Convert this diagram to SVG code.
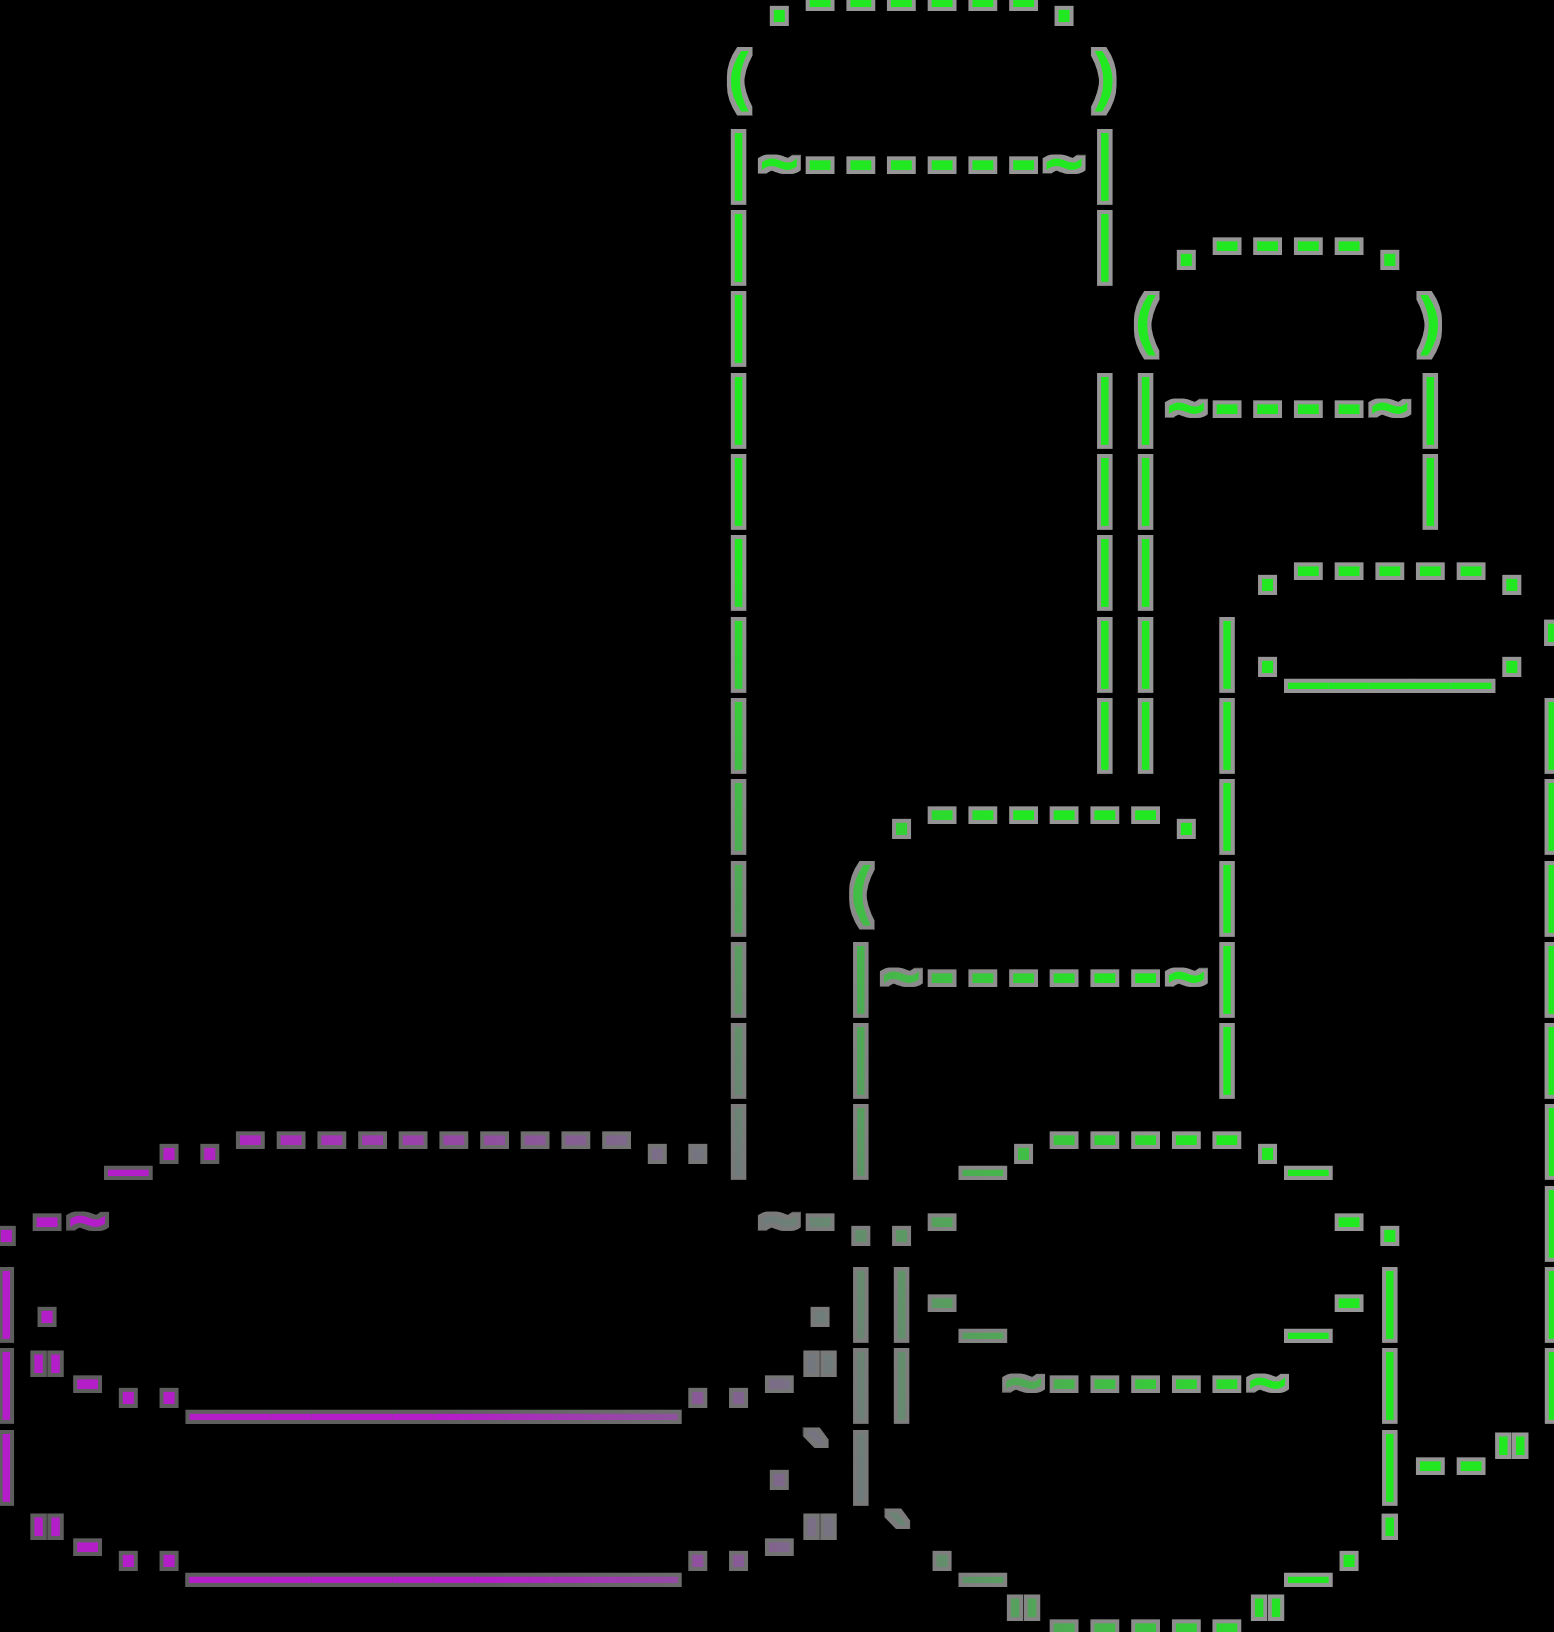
<svg xmlns="http://www.w3.org/2000/svg" width="1554" height="1632" viewBox="0 0 1554 1632">
<defs>
<radialGradient id="grad" gradientUnits="userSpaceOnUse" cx="0" cy="1632" r="1300">
<stop offset="0.385" stop-color="#b41ec8"/>
<stop offset="1" stop-color="#22e822"/>
</radialGradient>
<filter id="halo" filterUnits="userSpaceOnUse" x="0" y="0" width="1554" height="1632" color-interpolation-filters="sRGB">
<feMorphology in="SourceGraphic" operator="dilate" radius="4" result="d"/>
<feColorMatrix in="d" type="matrix" values="0.299 0.587 0.114 0 0 0.299 0.587 0.114 0 0 0.299 0.587 0.114 0 0 0 0 0 1 0" result="g"/>
<feMerge><feMergeNode in="g"/><feMergeNode in="SourceGraphic"/></feMerge>
</filter>
<style>
text{font-family:"DejaVu Sans Mono","Liberation Mono",monospace;font-weight:bold;font-size:67.59px;fill:url(#grad);white-space:pre}
</style>
</defs>
<rect width="1554" height="1632" fill="#000"/>
<g filter="url(#halo)">
<g id="cylinder-top">
<text x="759.06" y="22">.------.</text>
<text x="718.37" y="103.32">(        )</text>
<text x="718.37" y="184.64">|~------~|</text>
<text x="718.37" y="265.96">|        |</text>
<text x="718.37" y="347.28">|</text>
<text x="718.37" y="428.6">|        |</text>
<text x="718.37" y="509.92">|        |</text>
<text x="718.37" y="591.24">|        |</text>
<text x="718.37" y="672.56">|        |</text>
<text x="718.37" y="753.88">|        |</text>
<text x="718.37" y="835.2">|</text>
<text x="718.37" y="916.52">|</text>
<text x="718.37" y="997.84">|</text>
<text x="718.37" y="1079.16">|</text>
<text x="718.37" y="1160.48">|</text>
</g>
<g id="cylinder-upper-right">
<text x="1165.96" y="265.96">.----.</text>
<text x="1125.27" y="347.28">(      )</text>
<text x="1125.27" y="428.6">|~----~|</text>
<text x="1125.27" y="509.92">|      |</text>
<text x="1125.27" y="591.24">|</text>
<text x="1125.27" y="672.56">|</text>
<text x="1125.27" y="753.88">|</text>
</g>
<g id="box-right">
<text x="1247.34" y="591.24">.-----.</text>
<text x="1206.65" y="672.56">|._____.'</text>
<text x="1206.65" y="753.88">|       |</text>
<text x="1206.65" y="835.2">|       |</text>
<text x="1206.65" y="916.52">|       |</text>
<text x="1206.65" y="997.84">|       |</text>
<text x="1206.65" y="1079.16">|       |</text>
<text x="1532.17" y="1160.48">|</text>
<text x="1532.17" y="1241.8">|</text>
<text x="1532.17" y="1323.12">|</text>
<text x="1532.17" y="1404.44">|</text>
</g>
<g id="cylinder-middle">
<text x="881.13" y="835.2">.------.</text>
<text x="840.44" y="916.52">(</text>
<text x="840.44" y="997.84">|~------~</text>
<text x="840.44" y="1079.16">|</text>
<text x="840.44" y="1160.48">|</text>
<text x="840.44" y="1241.8">.</text>
<text x="840.44" y="1323.12">|</text>
<text x="840.44" y="1404.44">|</text>
<text x="840.44" y="1485.76">|</text>
</g>
<g id="ellipse-left">
<text x="108.02" y="1160.48">_..----------..</text>
<text x="-14.05" y="1241.8">.-~</text>
<text x="759.06" y="1241.8">~-</text>
<text x="-14.05" y="1323.12">|.</text>
<text x="799.75" y="1323.12">.</text>
<text x="-14.05" y="1404.44">|"-..____________..-"</text>
<text x="-14.05" y="1485.76">|</text>
<text x="759.06" y="1485.76">.`</text>
<text x="26.64" y="1567.08">"-..____________..-"</text>
</g>
<g id="ellipse-right">
<text x="962.51" y="1160.48">_.-----._</text>
<text x="881.13" y="1241.8">.-</text>
<text x="1328.72" y="1241.8">-.</text>
<text x="881.13" y="1323.12">|-_</text>
<text x="1288.03" y="1323.12">_-|</text>
<text x="881.13" y="1404.44">|</text>
<text x="1003.2" y="1404.44">~-----~</text>
<text x="1369.41" y="1404.44">|</text>
<text x="1369.41" y="1485.76">|</text>
<text x="881.13" y="1567.08">`._</text>
<text x="1288.03" y="1567.08">_.'</text>
<text x="1003.2" y="1648.4">"-----"</text>
</g>
<g id="connectors">
<text x="1410.1" y="1485.76">--"</text>
</g>
</g>
</svg>
